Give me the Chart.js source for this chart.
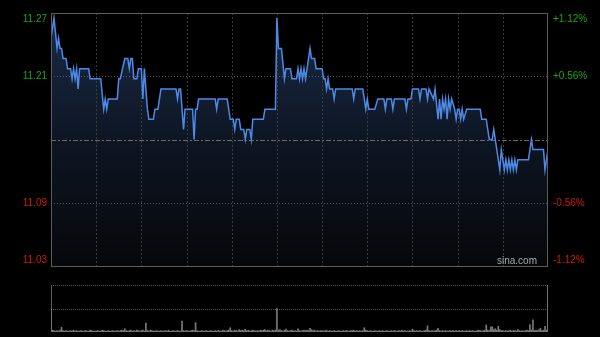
<!DOCTYPE html>
<html>
<head>
<meta charset="utf-8">
<script src="https://cdn.jsdelivr.net/npm/chart.js@4.4.1/dist/chart.umd.min.js"></script>
<style>
    html, body { margin: 0; padding: 0; background: #000; }
    #wrap { position: relative; width: 600px; height: 337px; }
    #wrap canvas { position: absolute; left: 0; top: 0; }
</style>
</head>
<body>
<div id="wrap">
    <canvas id="priceChart" width="600" height="337"></canvas>
    <canvas id="volChart" width="600" height="337"></canvas>
</div>
<script>
// minutes after 09:30 (lunch break removed, 0..330) and the price at that minute
const minutes = [
    0, 2, 4, 5, 6, 7, 8, 10, 11, 13, 14, 15, 16, 17, 18, 19, 25, 26, 33, 35,
    36, 37, 38, 44, 45, 46, 49, 51, 52, 53, 54, 55, 57, 58, 60, 61, 62, 64, 65, 68,
    69, 71, 72, 73, 83, 84, 85, 86, 88, 89, 94, 95, 96, 97, 98, 109, 110, 111, 117, 119,
    121, 122, 123, 125, 126, 128, 129, 130, 132, 133, 134, 141, 142, 149, 150, 151, 153, 155, 156, 159,
    160, 163, 164, 165, 166, 167, 168, 169, 172, 173, 175, 176, 180, 181, 182, 183, 184, 185, 187, 188,
    189, 200, 201, 202, 207, 209, 210, 211, 215, 217, 221, 222, 223, 226, 227, 228, 235, 236, 237, 239,
    240, 244, 245, 246, 249, 250, 251, 254, 255, 257, 258, 259, 260, 261, 262, 263, 264, 265, 266, 268,
    269, 270, 271, 272, 273, 274, 276, 285, 286, 289, 291, 293, 294, 296, 297, 298, 299, 300, 301, 302,
    303, 304, 305, 306, 307, 308, 309, 310, 317, 319, 320, 327, 328, 330
];
const prices = [
    11.25, 11.27, 11.24, 11.25, 11.24, 11.24, 11.23, 11.23, 11.22, 11.22, 11.21, 11.22, 11.21, 11.22, 11.20, 11.22, 11.22, 11.21, 11.21, 11.18,
    11.19, 11.18, 11.19, 11.19, 11.21, 11.21, 11.23, 11.23, 11.22, 11.23, 11.23, 11.21, 11.21, 11.22, 11.22, 11.19, 11.22, 11.18, 11.17, 11.17,
    11.18, 11.18, 11.19, 11.20, 11.20, 11.19, 11.20, 11.20, 11.16, 11.18, 11.18, 11.15, 11.18, 11.18, 11.19, 11.19, 11.18, 11.19, 11.19, 11.17,
    11.17, 11.16, 11.17, 11.17, 11.16, 11.16, 11.15, 11.16, 11.16, 11.15, 11.17, 11.17, 11.18, 11.18, 11.27, 11.24, 11.24, 11.21, 11.22, 11.22,
    11.21, 11.21, 11.22, 11.21, 11.22, 11.21, 11.22, 11.21, 11.24, 11.23, 11.23, 11.22, 11.22, 11.21, 11.21, 11.20, 11.21, 11.20, 11.20, 11.19,
    11.20, 11.20, 11.19, 11.20, 11.20, 11.18, 11.19, 11.18, 11.18, 11.19, 11.19, 11.18, 11.19, 11.19, 11.18, 11.19, 11.19, 11.18, 11.19, 11.19,
    11.20, 11.20, 11.19, 11.20, 11.20, 11.19, 11.20, 11.19, 11.20, 11.17, 11.19, 11.17, 11.19, 11.18, 11.19, 11.17, 11.19, 11.18, 11.19, 11.18,
    11.17, 11.18, 11.18, 11.17, 11.18, 11.17, 11.18, 11.18, 11.17, 11.17, 11.15, 11.15, 11.16, 11.14, 11.13, 11.12, 11.14, 11.13, 11.12, 11.13,
    11.12, 11.13, 11.12, 11.13, 11.12, 11.13, 11.12, 11.13, 11.13, 11.15, 11.14, 11.14, 11.12, 11.14
];

// volume per minute, 0..330 (scaled, closing auction = 100)
const volumes = [
    49, 4, 3, 2, 3, 2, 4, 10, 3, 2,
    3, 2, 2, 3, 2, 4, 2, 3, 2, 2,
    3, 2, 2, 3, 2, 2, 4, 3, 2, 2,
    2, 3, 2, 2, 4, 3, 2, 2, 3, 2,
    2, 3, 2, 2, 3, 2, 3, 4, 3, 7,
    3, 2, 3, 4, 2, 3, 2, 4, 3, 2,
    3, 4, 2, 19, 3, 2, 4, 3, 2, 2,
    3, 2, 2, 3, 2, 2, 3, 2, 4, 2,
    2, 3, 2, 2, 3, 2, 2, 23, 3, 2,
    3, 2, 2, 3, 4, 3, 20, 3, 2, 2,
    3, 2, 2, 3, 2, 2, 3, 2, 2, 3,
    2, 3, 2, 2, 4, 3, 2, 3, 4, 9,
    3, 2, 4, 3, 2, 5, 3, 4, 3, 6,
    3, 4, 2, 3, 4, 3, 2, 3, 2, 4,
    3, 4, 5, 3, 4, 3, 2, 4, 3, 4,
    50, 4, 5, 3, 2, 4, 6, 3, 2, 3,
    4, 2, 3, 2, 7, 3, 2, 3, 4, 3,
    4, 3, 8, 5, 3, 4, 2, 3, 2, 3,
    3, 2, 3, 4, 2, 3, 2, 2, 3, 2,
    2, 3, 2, 2, 3, 2, 3, 2, 2, 3,
    3, 4, 2, 3, 2, 3, 2, 3, 9, 4,
    3, 2, 3, 2, 2, 3, 2, 2, 3, 2,
    3, 2, 2, 3, 2, 2, 3, 2, 3, 2,
    2, 3, 2, 4, 2, 3, 2, 2, 3, 2,
    6, 3, 2, 3, 2, 3, 2, 2, 3, 4,
    13, 3, 2, 3, 2, 3, 4, 8, 3, 2,
    3, 2, 3, 2, 2, 3, 2, 3, 2, 3,
    2, 3, 2, 3, 2, 2, 3, 2, 3, 2,
    3, 2, 2, 3, 4, 3, 2, 3, 4, 15,
    4, 3, 11, 11, 5, 7, 4, 12, 5, 3,
    3, 2, 3, 2, 3, 4, 2, 3, 3, 2,
    5, 3, 2, 3, 2, 3, 4, 3, 16, 4,
    26, 3, 4, 3, 5, 8, 3, 4, 12, 4,
    100
];

// axis ticks
const prevClose = 11.15;
const priceTickValues = [11.025, 11.0875, 11.15, 11.2125, 11.275];
const priceTickLabels = ['11.03', '11.09', '11.15', '11.21', '11.27'];
const pctTickLabels = ['-1.12%', '-0.56%', '0.00%', '+0.56%', '+1.12%'];
const timeGridMinutes = [30, 60, 90, 120, 150, 180, 210, 240, 270, 300];

const GREEN = '#14a814';
const RED = '#d01a0a';
const LABEL_FONT = '10px "Liberation Sans", Arial, sans-serif';

function dashedLine(ctx, x1, y1, x2, y2, dash, color) {
    ctx.save();
    ctx.strokeStyle = color;
    ctx.lineWidth = 1;
    ctx.setLineDash(dash);
    ctx.beginPath();
    ctx.moveTo(x1, y1);
    ctx.lineTo(x2, y2);
    ctx.stroke();
    ctx.restore();
}

// grid goes between the area fill (dataset 1) and the price line (dataset 0)
const priceDecor = {
    id: 'priceDecor',
    afterDatasetDraw(chart, args) {
        if (args.index !== 1) return;
        const { ctx, chartArea: a, scales: { x, y } } = chart;
        timeGridMinutes.forEach(m => {
            const px = Math.round(x.getPixelForValue(m)) + 0.5;
            dashedLine(ctx, px, a.top, px, a.bottom, [2, 2], '#3c3c3c');
        });
        [priceTickValues[1], priceTickValues[3]].forEach(v => {
            const py = Math.round(y.getPixelForValue(v)) + 0.5;
            dashedLine(ctx, a.left, py, a.right, py, [1, 2], '#5a5a5a');
        });
        const pc = Math.round(y.getPixelForValue(prevClose)) + 0.5;
        dashedLine(ctx, a.left, pc, a.right, pc, [5, 2, 2, 2], '#6a6a6a');
    },
    afterDraw(chart) {
        const { ctx, chartArea: a, scales: { y } } = chart;
        ctx.save();
        ctx.strokeStyle = '#5c5c5c';
        ctx.lineWidth = 1;
        ctx.strokeRect(Math.round(a.left) + 0.5, Math.round(a.top) + 0.5,
            Math.round(a.right - a.left) - 1, Math.round(a.bottom - a.top));
        ctx.font = LABEL_FONT;
        ctx.textBaseline = 'middle';
        priceTickValues.forEach((v, i) => {
            if (v === prevClose) return;
            let py = y.getPixelForValue(v);
            py = Math.min(Math.max(py, a.top + 6), a.bottom - 6);
            ctx.fillStyle = v > prevClose ? GREEN : RED;
            ctx.textAlign = 'right';
            ctx.fillText(priceTickLabels[i], a.left - 4, py);
            ctx.textAlign = 'left';
            ctx.fillText(pctTickLabels[i], a.right + 5, py);
        });
        ctx.fillStyle = '#a8a8a8';
        ctx.textAlign = 'right';
        ctx.fillText('sina.com', a.right - 11, a.bottom - 5);
        ctx.restore();
    }
};

const volDecor = {
    id: 'volDecor',
    beforeDatasetsDraw(chart) {
        const { ctx, chartArea: a, scales: { y } } = chart;
        [100, 50].forEach(v => {
            const py = Math.round(y.getPixelForValue(v)) + 0.5;
            dashedLine(ctx, a.left, py, a.right, py, [1, 1], '#555');
        });
        const l = Math.round(a.left) + 0.5, r = Math.round(a.right) - 0.5;
        dashedLine(ctx, l, a.top, l, a.bottom, [], '#5c5c5c');
        dashedLine(ctx, r, a.top, r, a.bottom, [], '#5c5c5c');
    }
};

document.addEventListener('DOMContentLoaded', function() {
    initPriceChart();
    initVolumeChart();
});

function initPriceChart() {
    const points = minutes.map((m, i) => ({ x: m, y: prices[i] }));
    new Chart(document.getElementById('priceChart'), {
        type: 'line',
        data: {
            datasets: [{
                data: points,
                borderColor: '#4d8ae6',
                borderWidth: 1.5,
                pointRadius: 0,
                tension: 0,
                fill: false
            }, {
                data: points,
                borderWidth: 0,
                pointRadius: 0,
                tension: 0,
                fill: 'start',
                backgroundColor: function(context) {
                    const area = context.chart.chartArea;
                    if (!area) return 'rgba(20,32,55,1)';
                    const g = context.chart.ctx.createLinearGradient(0, area.top, 0, area.bottom);
                    g.addColorStop(0, 'rgb(26,42,70)');
                    g.addColorStop(0.5, 'rgb(14,22,36)');
                    g.addColorStop(1, 'rgb(6,7,10)');
                    return g;
                }
            }]
        },
        options: {
            responsive: false,
            animation: false,
            devicePixelRatio: 1,
            layout: { padding: { left: 51, top: 13, right: 52, bottom: 71 } },
            plugins: { legend: { display: false }, tooltip: { enabled: false } },
            scales: {
                x: { type: 'linear', min: 0, max: 330, display: false },
                y: { min: priceTickValues[0], max: priceTickValues[4], display: false }
            }
        },
        plugins: [priceDecor]
    });
}

function initVolumeChart() {
    const bars = volumes.map((v, i) => ({ x: i, y: v }));
    new Chart(document.getElementById('volChart'), {
        type: 'bar',
        data: {
            datasets: [{
                data: bars,
                backgroundColor: '#7a7a7a',
                barThickness: 1,
                borderWidth: 0
            }]
        },
        options: {
            responsive: false,
            animation: false,
            devicePixelRatio: 1,
            layout: { padding: { left: 51, top: 285, right: 52, bottom: 5 } },
            plugins: { legend: { display: false }, tooltip: { enabled: false } },
            scales: {
                x: { type: 'linear', min: 0, max: 330, display: false, offset: false },
                y: { min: 0, max: 100, display: false }
            }
        },
        plugins: [volDecor]
    });
}
</script>
</body>
</html>
